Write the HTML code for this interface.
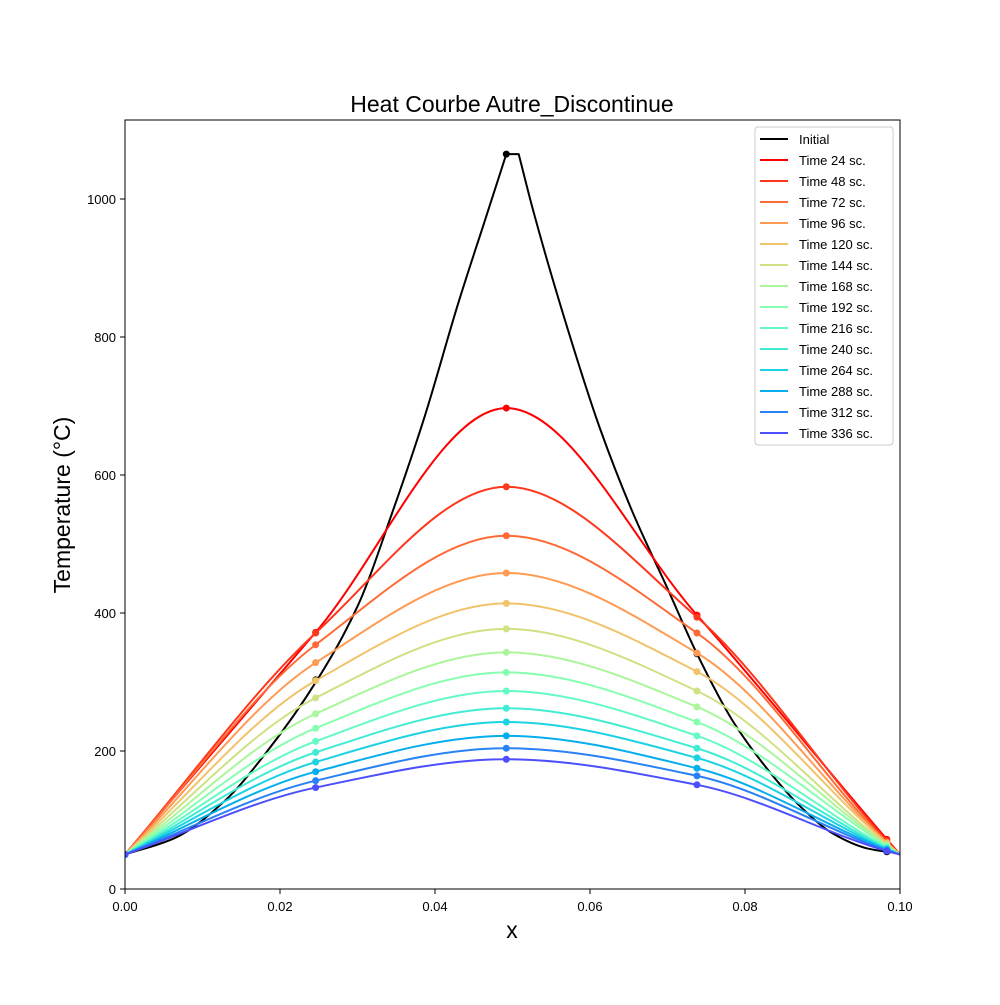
<!DOCTYPE html>
<html><head><meta charset="utf-8"><style>
body{margin:0;background:#fff}
svg{font-family:"Liberation Sans","DejaVu Sans",sans-serif}
</style></head><body>
<svg id="c" width="1000" height="1000" viewBox="0 0 1000 1000"></svg>
<script>
const seriesNames=["Time 24 sc.","Time 48 sc.","Time 72 sc.","Time 96 sc.","Time 120 sc.","Time 144 sc.","Time 168 sc.","Time 192 sc.","Time 216 sc.","Time 240 sc.","Time 264 sc.","Time 288 sc.","Time 312 sc.","Time 336 sc."];
const markerX=[0,0.0246,0.0492,0.0738,0.0983,0.1];
const peakVals=[697,583,512,458,414,377,343,314,287,262,242,222,204,188];
const leftVals=[372,371,354,328,302,277,254,233,214,198,184,170,157,147];
const rightVals=[397,394,371,342,315,287,264,242,222,204,190,175,164,151];
const endVals=[72,70,68,67,66,64,63,62,60,59,58,57,56,55];
const initX=[0,0.00645,0.0129,0.0181,0.0248,0.0301,0.0345,0.0387,0.043,0.0465,0.0492,0.0508,0.05265,0.057,0.0613,0.0655,0.0699,0.0738,0.0785,0.0828,0.0871,0.0914,0.0957,0.0983,0.1];
const initY=[50,74,128,196,303,412,546,686,849,971,1065,1065,984,816,667,546,438,341,242,175,120,80,59,54,52];
const initMarkX=[0.0246,0.0492,0.0738,0.0983];
const initMarkY=[303,1065,341,54];
const xTicks=[0,0.02,0.04,0.06,0.08,0.10];
const xTickLabels=["0.00","0.02","0.04","0.06","0.08","0.10"];
const yTicks=[0,200,400,600,800,1000];

const L=125,R=900,T=120,B=889;
const X=v=>L+(v/0.1)*(R-L);
const Y=v=>B-v*0.69;
const svg=document.getElementById('c');
const NS="http://www.w3.org/2000/svg";
function mk(tag,attrs,parent){const e=document.createElementNS(NS,tag);for(const k in attrs)e.setAttribute(k,attrs[k]);(parent||svg).appendChild(e);return e;}
function color(t){const r=Math.min(1,Math.abs(2*t-0.5)),g=Math.sin(Math.PI*t),b=Math.cos(Math.PI*t/2);return `rgb(${Math.round(r*255)},${Math.round(g*255)},${Math.round(b*255)})`;}
function spline(px,py,cont){
  const n=px.length,h=[],s=[],m=new Array(n);
  for(let i=0;i<n-1;i++){h[i]=px[i+1]-px[i];s[i]=(py[i+1]-py[i])/h[i];}
  m[0]=s[0];m[n-1]=s[n-2];
  for(let i=1;i<n-1;i++){
    if(s[i-1]*s[i]<=0)m[i]=0;
    else{const w1=2*h[i]+h[i-1],w2=h[i]+2*h[i-1];m[i]=(w1+w2)/(w1/s[i-1]+w2/s[i]);}
  }
  let d=(cont?'L':'M')+`${px[0]},${py[0]}`;
  for(let i=0;i<n-1;i++){
    d+=` C${px[i]+h[i]/3},${py[i]+m[i]*h[i]/3} ${px[i+1]-h[i]/3},${py[i+1]-m[i+1]*h[i]/3} ${px[i+1]},${py[i+1]}`;
  }
  return d;
}
const title=mk('text',{x:512,y:112,'text-anchor':'middle','font-size':23});
title.textContent="Heat Courbe Autre_Discontinue";


const clip=mk('clipPath',{id:'cp'});mk('rect',{x:L,y:T,width:R-L,height:B-T},clip);
const g=mk('g',{'clip-path':'url(#cp)'});


const ipx=initX.map(X),ipy=initY.map(Y);
const dInit=spline(ipx.slice(0,11),ipy.slice(0,11))+spline(ipx.slice(11),ipy.slice(11),true);
const ip=mk('path',{d:dInit,fill:'none',stroke:'#000','stroke-width':2,'stroke-linejoin':'round'},g);


initMarkX.forEach((v,i)=>{const c=mk('circle',{cx:X(v),cy:Y(initMarkY[i]),r:3.5,fill:'#000'},g);

});
const cols=seriesNames.map((n,i)=>color(1-i*0.9/13));
seriesNames.forEach((n,i)=>{
  const ys=[50,leftVals[i],peakVals[i],rightVals[i],endVals[i],50];
  const p=mk('path',{d:spline(markerX.map(X),ys.map(Y)),fill:'none',stroke:cols[i],'stroke-width':2},g);
  
  
  for(let k=0;k<5;k++){const c=mk('circle',{cx:X(markerX[k]),cy:Y(ys[k]),r:3.5,fill:cols[i]},g);
  
  }
});
const frame=mk('rect',{x:L,y:T,width:R-L,height:B-T,fill:'none',stroke:'#000','stroke-width':1});


xTicks.forEach((v,i)=>{mk('line',{x1:X(v),x2:X(v),y1:B,y2:B+5,stroke:'#000'});
  const t=mk('text',{x:X(v),y:B+22,'text-anchor':'middle','font-size':13});t.textContent=xTickLabels[i];
  
  });
yTicks.forEach(v=>{mk('line',{x1:L-5,x2:L,y1:Y(v),y2:Y(v),stroke:'#000'});
  const t=mk('text',{x:L-9,y:Y(v)+5,'text-anchor':'end','font-size':13});t.textContent=v;
  
  });
const xl=mk('text',{x:512,y:938,'text-anchor':'middle','font-size':23});xl.textContent="x";


const yl=mk('text',{x:70,y:505,'text-anchor':'middle','font-size':23,transform:'rotate(-90 70 505)'});yl.textContent="Temperature (°C)";


const lg=mk('g',{});


mk('rect',{x:755,y:127,width:138,height:318,rx:3,fill:'#fff',stroke:'#ccc'},lg);
const names=["Initial"].concat(seriesNames),lc=['#000'].concat(cols);
names.forEach((n,i)=>{const y=139+i*21;
  mk('line',{x1:760,x2:788,y1:y,y2:y,stroke:lc[i],'stroke-width':2},lg);
  const t=mk('text',{x:799,y:y+5,'font-size':13},lg);t.textContent=n;
  
  });
</script>
</body></html>
